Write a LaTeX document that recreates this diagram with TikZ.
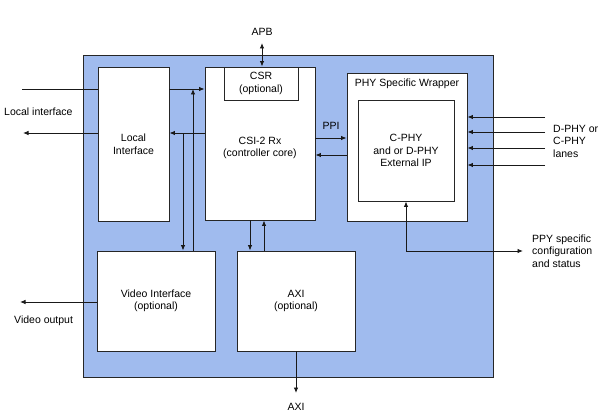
\documentclass[tikz,border=0pt]{standalone}
\usepackage{fontspec}
\setmainfont{Liberation Sans}
\usetikzlibrary{arrows.meta}
\definecolor{bgblue}{RGB}{160,187,238}
\begin{document}
\begin{tikzpicture}[x=1pt,y=-1pt,
  font=\fontsize{10.5}{12.5}\selectfont,
  outerbox/.style={draw=black!85,line width=0.9pt,fill=bgblue,inner sep=0pt},
  blk/.style={draw=black!85,line width=0.9pt,fill=white,inner sep=0pt,align=center},
  lbl/.style={inner sep=0pt,align=left},
  wire/.style={line width=0.9pt,draw=black!90},
  arr/.style={wire,-{Latex[length=5.5pt,width=4.5pt]}},
  arrb/.style={wire,{Latex[length=5.5pt,width=4.5pt]}-{Latex[length=5.5pt,width=4.5pt]}}]
\useasboundingbox (0,0) rectangle (612,417);
\node[outerbox,minimum width=410pt,minimum height=322pt] (outer) at (288,216) {};
\node[blk,minimum width=71pt,minimum height=154pt] (local) at (133.5,144) {Local\\Interface};
\node[blk,minimum width=110pt,minimum height=153pt] (csi) at (260,143.5) {\\[4pt]CSI-2 Rx\\(controller core)};
\node[blk,minimum width=74pt,minimum height=33pt] (csr) at (261,83.5) {CSR\\(optional)};
\node[blk,minimum width=120pt,minimum height=148pt] (wrap) at (407,147) {};
\node[lbl,anchor=north] (wraplbl) at ([yshift=-6pt]wrap.north) {PHY Specific Wrapper};
\node[blk,minimum width=96pt,minimum height=101pt] (inner) at (406,150.5) {C-PHY\\and or D-PHY\\External IP};
\node[blk,minimum width=118pt,minimum height=100pt] (video) at (156,301) {Video Interface\\(optional)};
\node[blk,minimum width=118pt,minimum height=100pt] (axi) at (296,301) {AXI\\(optional)};
% labels
\node[lbl] (apblbl) at (262,32) {APB};
\node[lbl] (ppilbl) at (331,126) {PPI};
\node[lbl,anchor=west] (laneslbl) at (553,141) {D-PHY or\\C-PHY\\lanes};
\node[lbl,anchor=west] (ppylbl) at (532,251) {PPY specific\\configuration\\and status};
\node[lbl,anchor=west] (loclbl) at (4,112) {Local interface};
\node[lbl,anchor=west] (vidlbl) at (14,321) {Video output};
\node[lbl] (axilbl) at (296,407) {AXI};
% coordinates
\coordinate (apb) at (262,43);
\coordinate (l1) at (545,117);
\coordinate (l2) at (545,132);
\coordinate (l3) at (545,148);
\coordinate (l4) at (545,165);
\coordinate (ppy) at (523,251);
\coordinate (lin) at (22,89);
\coordinate (lout) at (23,133);
\coordinate (j1) at (183,133);
\coordinate (j2) at (193,89);
\coordinate (vout) at (20,302);
\coordinate (aout) at (296,393);
\coordinate (p1) at (0,138);
\coordinate (p2) at (0,155);
\coordinate (a1) at (250,0);
\coordinate (a2) at (264,0);
% connectors
\draw[arrb] (apb) -- (csr.north -| apb);
\foreach \l in {l1,l2,l3,l4} \draw[arr] (\l) -- (wrap.east |- \l);
\draw[arr] (csi.east |- p1) -- (wrap.west |- p1);
\draw[arr] (wrap.west |- p2) -- (csi.east |- p2);
\draw[arrb] (inner.south) |- (ppy);
\draw[wire] (lin) -- (local.west |- lin);
\draw[arr] (local.east |- lin) -- (csi.west |- lin);
\draw[arr] (local.west |- lout) -- (lout);
\draw[arr] (csi.west |- lout) -- (local.east |- lout);
\draw[arr] (j1) -- (video.north -| j1);
\draw[arr] (video.north -| j2) -- (j2);
\draw[arr] (csi.south -| a1) -- (axi.north -| a1);
\draw[arr] (axi.north -| a2) -- (csi.south -| a2);
\draw[arr] (video.west |- vout) -- (vout);
\draw[arr] (axi.south) -- (aout);
\end{tikzpicture}
\end{document}
